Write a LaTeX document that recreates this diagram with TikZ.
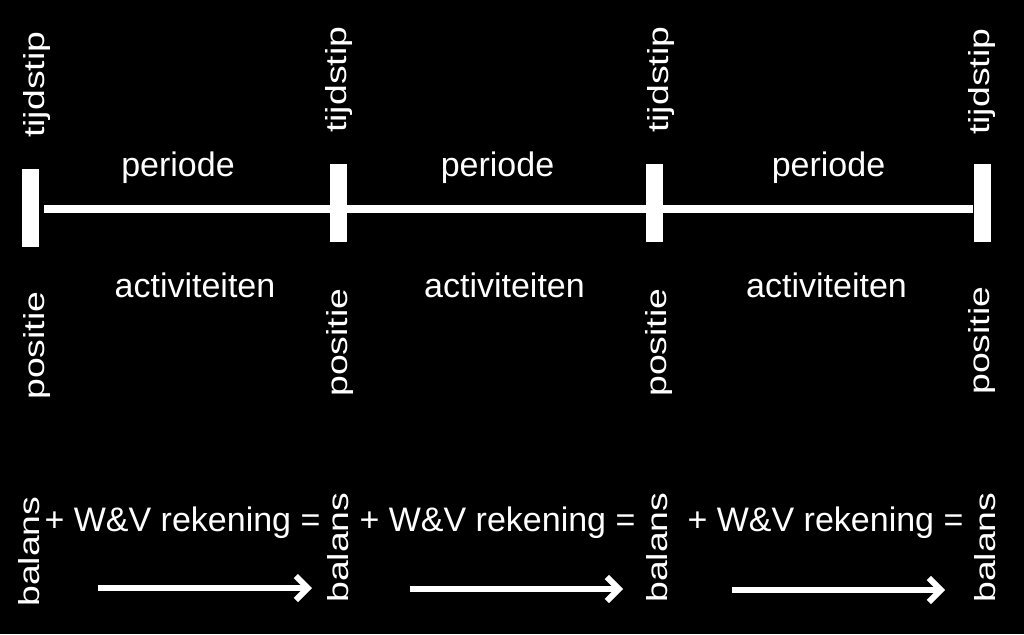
\documentclass[tikz,border=0pt]{standalone}
\usepackage{fontspec}
\setmainfont{Liberation Sans}
\usetikzlibrary{arrows.meta}
\begin{document}
\begin{tikzpicture}[x=1pt,y=-1pt,
  lbl/.style={text=white, inner sep=0pt, font=\fontsize{34}{40}\selectfont, anchor=base},
  vlbl/.style={text=white, inner sep=0pt, font=\fontsize{29}{34}\selectfont, anchor=base west, rotate=90, xscale=1.29},
  tick/.style={fill=white, draw=none, minimum width=17pt, minimum height=78pt, inner sep=0pt},
  timeline/.style={white, line width=8pt},
  flow/.style={white, line width=6pt, -{Straight Barb[length=12pt,width=24pt]}}
]
\fill[black] (0,0) rectangle (1024,634);
\useasboundingbox (0,0) rectangle (1024,634);

% time markers
\node[tick] (b1) at (30.5,207.5) {};
\node[tick] (b2) at (338.5,202.5) {};
\node[tick] (b3) at (654.5,202.5) {};
\node[tick] (b4) at (982,202.5) {};
\draw[timeline] ([xshift=5pt,yshift=-1.5pt]b1.east) -- ([yshift=-1.5pt]b4.west |- b1.east);

% tijdstip labels
\node[vlbl] (t1) at (44,138) {tijdstip};
\node[vlbl] (t2) at (346,133) {tijdstip};
\node[vlbl] (t3) at (668,133) {tijdstip};
\node[vlbl] (t4) at (989,135) {tijdstip};

% periode labels
\node[lbl] (p1) at (178,176) {periode};
\node[lbl] (p2) at (497.5,176) {periode};
\node[lbl] (p3) at (828.5,176) {periode};

% activiteiten labels
\node[lbl] (a1) at (195,297) {activiteiten};
\node[lbl] (a2) at (504.5,297) {activiteiten};
\node[lbl] (a3) at (826.5,297) {activiteiten};

% positie labels
\node[vlbl] (q1) at (44,400) {positie};
\node[vlbl] (q2) at (347,397) {positie};
\node[vlbl] (q3) at (666,397) {positie};
\node[vlbl] (q4) at (989,395) {positie};

% balans labels
\node[vlbl] (s1) at (39,607) {balans};
\node[vlbl] (s2) at (348,603) {balans};
\node[vlbl] (s3) at (667,603) {balans};
\node[vlbl] (s4) at (995,603) {balans};

% W&V labels
\node[lbl] (w1) at (182.5,531) {+ W\&V rekening =};
\node[lbl] (w2) at (497.5,531) {+ W\&V rekening =};
\node[lbl] (w3) at (825.5,531) {+ W\&V rekening =};

% arrows
\coordinate (f1s) at (98,588);
\coordinate (f1e) at (312,588);
\coordinate (f2s) at (410,589);
\coordinate (f2e) at (623,589);
\coordinate (f3s) at (732,590);
\coordinate (f3e) at (945,590);
\draw[flow] (f1s) -- (f1e);
\draw[flow] (f2s) -- (f2e);
\draw[flow] (f3s) -- (f3e);
\end{tikzpicture}
\end{document}
